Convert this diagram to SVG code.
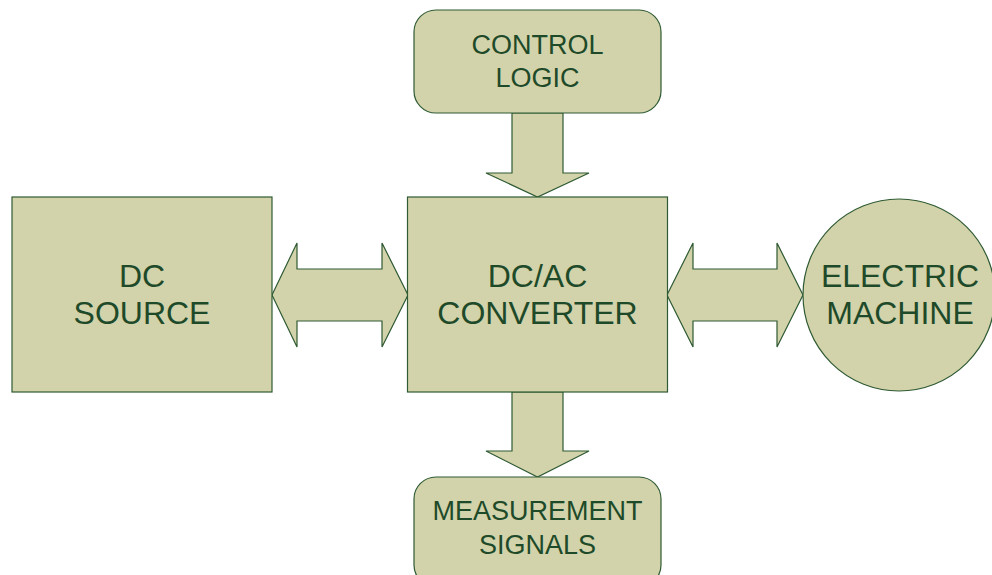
<svg xmlns="http://www.w3.org/2000/svg" width="992" height="575" viewBox="0 0 992 575">
<style>
.shape{fill:#d2d3aa;stroke:#2f5a33;stroke-width:1.2}
.lbl{font-family:"Liberation Sans",Arial,sans-serif;fill:#1e4a29;text-anchor:middle}
.big{font-size:32px}
.small{font-size:27px}
</style>
<rect width="992" height="575" fill="#ffffff"/>
<g id="connectors">
<polygon class="shape" points="512,113 563,113 563,173 589,173 537.5,197 486,173 512,173"/>
<polygon class="shape" points="512,392 563,392 563,451 589,451 537.5,477 486,451 512,451"/>
<polygon class="shape" points="272,295 297,243 297,269 382,269 382,243 408,295 382,347 382,321 297,321 297,347"/>
<polygon class="shape" points="667,295 693,243 693,269 777,269 777,243 803,295 777,347 777,321 693,321 693,347"/>
</g>
<g id="control-logic">
<rect class="shape" x="414" y="10" width="247" height="103" rx="22"/>
<text class="lbl small" x="537.5" y="54">CONTROL</text>
<text class="lbl small" x="537.5" y="87">LOGIC</text>
</g>
<g id="dc-source">
<rect class="shape" x="12" y="197" width="260" height="195"/>
<text class="lbl big" x="142" y="287">DC</text>
<text class="lbl big" x="142" y="324">SOURCE</text>
</g>
<g id="converter">
<rect class="shape" x="407.5" y="197" width="260" height="195"/>
<text class="lbl big" x="537.5" y="287">DC/AC</text>
<text class="lbl big" x="537.5" y="324">CONVERTER</text>
</g>
<g id="electric-machine">
<circle class="shape" cx="899" cy="295" r="96"/>
<text class="lbl big" x="900" y="287">ELECTRIC</text>
<text class="lbl big" x="900" y="324">MACHINE</text>
</g>
<g id="measurement-signals">
<rect class="shape" x="414" y="477" width="247" height="110" rx="22"/>
<text class="lbl small" x="537.5" y="520">MEASUREMENT</text>
<text class="lbl small" x="537.5" y="554">SIGNALS</text>
</g>
</svg>
